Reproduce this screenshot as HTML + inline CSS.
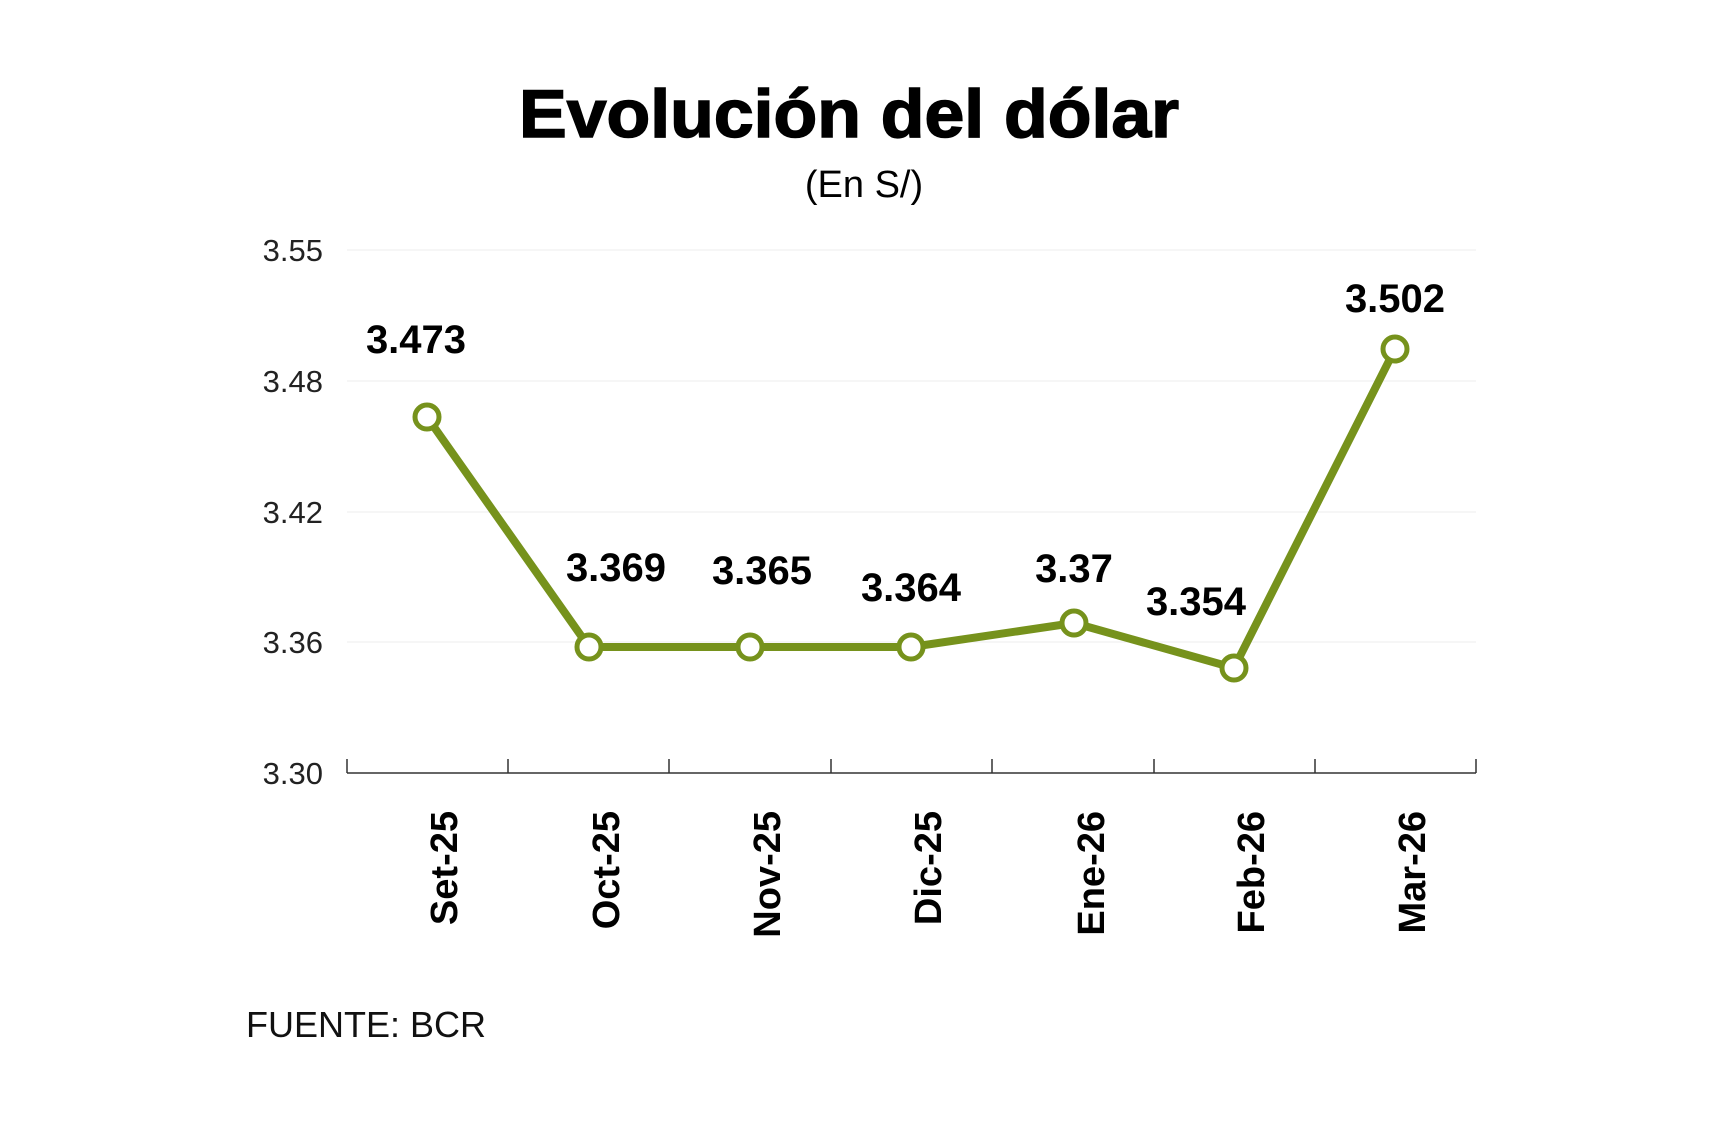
<!DOCTYPE html>
<html><head><meta charset="utf-8"><style>
html,body{margin:0;padding:0;background:#fff;}
svg{display:block;}
text{font-family:"Liberation Sans",sans-serif;}
</style></head><body>
<svg width="1725" height="1139" viewBox="0 0 1725 1139" xmlns="http://www.w3.org/2000/svg">
<text x="849" y="137" text-anchor="middle" font-size="68" font-weight="bold" textLength="660" lengthAdjust="spacingAndGlyphs" fill="#000" stroke="#000" stroke-width="1.5">Evolución del dólar</text>
<text x="864" y="197" text-anchor="middle" font-size="38" fill="#000">(En S/)</text>
<g stroke="#eeeeee" stroke-width="1">
<line x1="347" y1="250" x2="1476" y2="250"/>
<line x1="347" y1="381" x2="1476" y2="381"/>
<line x1="347" y1="512" x2="1476" y2="512"/>
<line x1="347" y1="642" x2="1476" y2="642"/>
</g>
<g font-size="31" fill="#222" text-anchor="end">
<text x="323" y="261">3.55</text>
<text x="323" y="392">3.48</text>
<text x="323" y="523">3.42</text>
<text x="323" y="653">3.36</text>
<text x="323" y="784">3.30</text>
</g>
<g stroke="#333" stroke-width="1.5">
<line x1="347" y1="773" x2="1476" y2="773"/>
<line x1="347" y1="759" x2="347" y2="773"/>
<line x1="508" y1="759" x2="508" y2="773"/>
<line x1="669" y1="759" x2="669" y2="773"/>
<line x1="831" y1="759" x2="831" y2="773"/>
<line x1="992" y1="759" x2="992" y2="773"/>
<line x1="1154" y1="759" x2="1154" y2="773"/>
<line x1="1315" y1="759" x2="1315" y2="773"/>
<line x1="1476" y1="759" x2="1476" y2="773"/>
</g>
<polyline points="427,417 589,647 750,647 911,647 1074,623 1234,668 1395,349" fill="none" stroke="#76921c" stroke-width="8" stroke-linejoin="round"/>
<g fill="#fff" stroke="#76921c" stroke-width="5">
<circle cx="427" cy="417" r="12"/>
<circle cx="589" cy="647" r="12"/>
<circle cx="750" cy="647" r="12"/>
<circle cx="911" cy="647" r="12"/>
<circle cx="1074" cy="623" r="12"/>
<circle cx="1234" cy="668" r="12"/>
<circle cx="1395" cy="349" r="12"/>
</g>
<g font-size="40" font-weight="bold" fill="#000" text-anchor="middle">
<text x="416" y="353">3.473</text>
<text x="616" y="581">3.369</text>
<text x="762" y="584">3.365</text>
<text x="911" y="601">3.364</text>
<text x="1074" y="582">3.37</text>
<text x="1196" y="615">3.354</text>
<text x="1395" y="312">3.502</text>
</g>
<g font-size="38" fill="#000" text-anchor="end" font-weight="bold">
<text transform="translate(457,811) rotate(-90)">Set-25</text>
<text transform="translate(619,811) rotate(-90)">Oct-25</text>
<text transform="translate(780,811) rotate(-90)">Nov-25</text>
<text transform="translate(941,811) rotate(-90)">Dic-25</text>
<text transform="translate(1104,811) rotate(-90)">Ene-26</text>
<text transform="translate(1264,811) rotate(-90)">Feb-26</text>
<text transform="translate(1425,811) rotate(-90)">Mar-26</text>
</g>
<text x="246" y="1037" font-size="36" fill="#111">FUENTE: BCR</text>
</svg>
</body></html>
